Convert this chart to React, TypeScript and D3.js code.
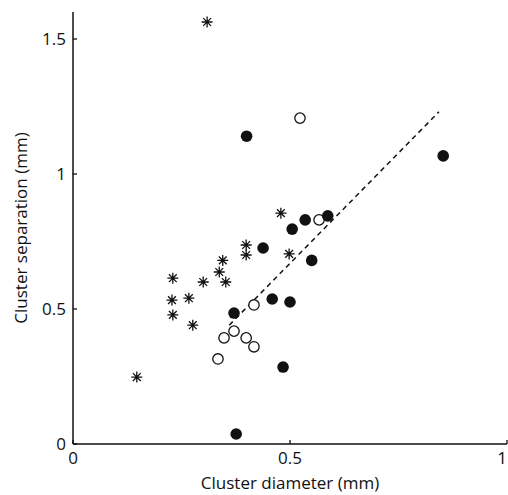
import React from "react";
import * as d3 from "d3";

const filledX = [0.40, 0.853, 0.505, 0.535, 0.587, 0.438, 0.55, 0.459, 0.50, 0.371, 0.484, 0.376];
const filledY = [1.14, 1.067, 0.796, 0.83, 0.845, 0.726, 0.68, 0.537, 0.526, 0.485, 0.285, 0.037];
const openX = [0.523, 0.567, 0.417, 0.371, 0.348, 0.399, 0.417, 0.334];
const openY = [1.207, 0.83, 0.515, 0.418, 0.393, 0.393, 0.36, 0.315];
const starX = [0.309, 0.479, 0.498, 0.23, 0.228, 0.23, 0.267, 0.276, 0.30, 0.345, 0.337, 0.352, 0.399, 0.399, 0.147];
const starY = [1.563, 0.855, 0.704, 0.614, 0.533, 0.478, 0.54, 0.44, 0.60, 0.68, 0.637, 0.60, 0.737, 0.70, 0.248];
const fitX = [0.36, 0.843];
const fitY = [0.44, 1.23];
const xTicks = [0, 0.5, 1];
const yTicks = [0, 0.5, 1, 1.5];
const xTickLabels = ["0", "0.5", "1"];
const yTickLabels = ["0", "0.5", "1", "1.5"];

const W = 508;
const H = 495;
const FONT = "'Open Sans', 'Noto Sans', sans-serif";

export default function App() {
  const x = d3.scaleLinear().domain([0, 1]).range([73, 507]);
  const y = d3.scaleLinear().domain([0, 1.6]).range([444, 12]);
  const ink = "#111";
  const line = d3
    .line<number>()
    .x((_, i) => x(fitX[i]))
    .y((_, i) => y(fitY[i]));
  const r = 5.8;
  const s = 5.5;
  const starPath = (cx: number, cy: number) => {
    const d = s * Math.SQRT1_2;
    return `M${cx - s},${cy}L${cx + s},${cy}M${cx},${cy - s}L${cx},${cy + s}M${cx - d},${cy - d}L${cx + d},${cy + d}M${cx - d},${cy + d}L${cx + d},${cy - d}`;
  };
  return (
    <svg width={W} height={H} style={{ position: "absolute", left: 0, top: 0, background: "#fff" }}>
      {/* axes */}
      <line x1={x(0)} x2={x(0)} y1={y(0)} y2={y(1.6)} stroke={ink} strokeWidth={1.5} />
      <line x1={x(0)} x2={x(1)} y1={y(0)} y2={y(0)} stroke={ink} strokeWidth={1.5} />
      {yTicks.map((t, i) => (
        <g key={"yt" + i}>
          <line x1={x(0)} x2={x(0) + 4} y1={y(t)} y2={y(t)} stroke={ink} strokeWidth={1.3} />
          <text x={x(0) - 7} y={y(t)} dy="0.35em" textAnchor="end" fontFamily={FONT} fontSize={17} fill={ink}>
            {yTickLabels[i]}
          </text>
        </g>
      ))}
      {xTicks.map((t, i) => (
        <g key={"xt" + i}>
          <line x1={x(t)} x2={x(t)} y1={y(0)} y2={y(0) - 4} stroke={ink} strokeWidth={1.3} />
          <text x={Math.min(x(t), W - 6)} y={458} dy="0.35em" textAnchor="middle" fontFamily={FONT} fontSize={17} fill={ink}>
            {xTickLabels[i]}
          </text>
        </g>
      ))}
      <text x={x(0.5)} y={483} dy="0.35em" textAnchor="middle" fontFamily={FONT} fontSize={17} fill={ink}>
        Cluster diameter (mm)
      </text>
      <text
        transform={`translate(21,${(y(0) + y(1.6)) / 2}) rotate(-90)`}
        dy="0.35em"
        textAnchor="middle"
        fontFamily={FONT}
        fontSize={17}
        fill={ink}
      >
        Cluster separation (mm)
      </text>
      {/* fit line */}
      <path d={line(fitX) || ""} fill="none" stroke={ink} strokeWidth={1.5} strokeDasharray="5,4" />
      {/* open circles */}
      {openX.map((v, i) => (
        <circle key={"o" + i} cx={x(v)} cy={y(openY[i])} r={r - 0.6} fill="#fff" stroke={ink} strokeWidth={1.3} />
      ))}
      {/* filled circles */}
      {filledX.map((v, i) => (
        <circle key={"f" + i} cx={x(v)} cy={y(filledY[i])} r={r} fill={ink} />
      ))}
      {/* stars */}
      {starX.map((v, i) => (
        <path key={"s" + i} d={starPath(x(v), y(starY[i]))} stroke={ink} strokeWidth={1.3} fill="none" />
      ))}
    </svg>
  );
}
